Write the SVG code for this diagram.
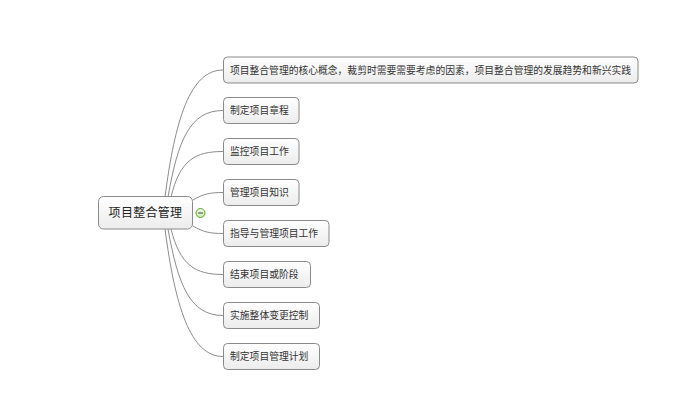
<svg xmlns="http://www.w3.org/2000/svg" width="697" height="401" viewBox="0 0 697 401">
<defs>
<linearGradient id="g" x1="0" y1="0" x2="0" y2="1"><stop offset="0" stop-color="#ffffff"/><stop offset="1" stop-color="#ececec"/></linearGradient>
<linearGradient id="gg" x1="0" y1="0" x2="0" y2="1"><stop offset="0" stop-color="#f4ffe8"/><stop offset="1" stop-color="#c8eaa8"/></linearGradient>
</defs>
<style>
.n{fill:url(#g);stroke:#8a8a8a;stroke-width:1}
.t{font-family:"Noto Sans CJK SC","Noto Sans",sans-serif;font-size:9.8px;fill:#333}
.r{font-family:"Noto Sans CJK SC","Noto Sans",sans-serif;font-size:12px;fill:#222;letter-spacing:0.3px}
.c{fill:none;stroke:#8c8c8c;stroke-width:1}
</style>
<rect width="697" height="401" fill="#ffffff"/>
<g id="connectors">
<path class="c" d="M165,197 C175,120 190,70 223,70"/>
<path class="c" d="M168,197 C178,140 190,110.5 223,110.5"/>
<path class="c" d="M171,197 C180,160 195,151.5 223,151.5"/>
<path class="c" d="M193,200 C203,194 210,192.5 223,192.5"/>
<path class="c" d="M193,226 C203,232 210,233.5 223,233.5"/>
<path class="c" d="M171,229 C180,265 195,274.5 223,274.5"/>
<path class="c" d="M168,229 C178,285 190,315.5 223,315.5"/>
<path class="c" d="M165,229 C175,305 190,356.5 223,356.5"/>
</g>
<g id="root">
<rect class="n" x="98.5" y="196.5" width="94" height="32.5" rx="5"/>
<text class="r" x="145.5" y="217" text-anchor="middle">项目整合管理</text>
</g>
<g id="toggle">
<circle cx="200.5" cy="213" r="4.5" fill="url(#gg)" stroke="#5aa02c" stroke-width="1"/>
<line x1="198" y1="213" x2="203" y2="213" stroke="#444" stroke-width="1"/>
</g>
<g id="n1"><rect class="n" x="223.5" y="57" width="414.5" height="26" rx="4"/><text class="t" x="230" y="73.5" textLength="401" lengthAdjust="spacingAndGlyphs">项目整合管理的核心概念，裁剪时需要需要考虑的因素，项目整合管理的发展趋势和新兴实践</text></g>
<g id="n2"><rect class="n" x="223.5" y="97.5" width="75.5" height="26" rx="4"/><text class="t" x="230" y="114">制定项目章程</text></g>
<g id="n3"><rect class="n" x="223.5" y="138.5" width="75.5" height="26" rx="4"/><text class="t" x="230" y="155">监控项目工作</text></g>
<g id="n4"><rect class="n" x="223.5" y="179.5" width="75.5" height="26" rx="4"/><text class="t" x="230" y="196">管理项目知识</text></g>
<g id="n5"><rect class="n" x="223.5" y="220.5" width="105.5" height="26" rx="4"/><text class="t" x="230" y="237">指导与管理项目工作</text></g>
<g id="n6"><rect class="n" x="223.5" y="261.5" width="87" height="26" rx="4"/><text class="t" x="230" y="278">结束项目或阶段</text></g>
<g id="n7"><rect class="n" x="223.5" y="302.5" width="96" height="26" rx="4"/><text class="t" x="230" y="319">实施整体变更控制</text></g>
<g id="n8"><rect class="n" x="223.5" y="343.5" width="96" height="26" rx="4"/><text class="t" x="230" y="360">制定项目管理计划</text></g>
</svg>
